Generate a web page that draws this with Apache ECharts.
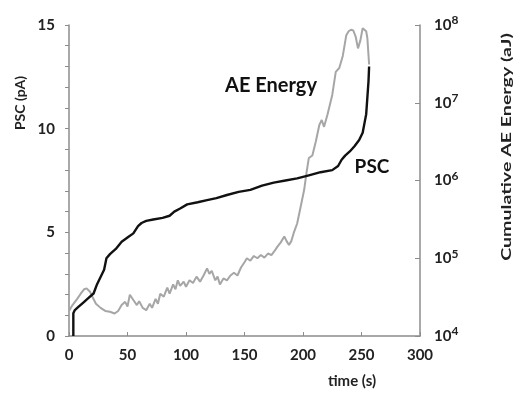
<!DOCTYPE html>
<html><head><meta charset="utf-8">
<script src="https://cdn.jsdelivr.net/npm/echarts@6/dist/echarts.min.js"></script>
<style>html,body{margin:0;padding:0;background:#fff}#c{width:515px;height:394px}</style>
</head><body><div id="c"></div>
<script>
// time (s) and PSC (pA)
var pscTime = [3.7,3.7,5,8,12,16,21,24,27,30,32,35,40,45,50,55,59,62,66,72,80,86,90,95,101,110,118,126,135,145,155,165,175,185,195,205,215,225,230,233,236,240,244,248,251,253,254,255,256,256.5];
var pscValue = [0,1.1,1.25,1.4,1.6,1.8,2.05,2.5,2.85,3.2,3.75,3.95,4.2,4.55,4.75,4.95,5.3,5.45,5.55,5.62,5.7,5.8,6.0,6.15,6.35,6.45,6.55,6.65,6.8,6.95,7.05,7.25,7.4,7.5,7.6,7.75,7.9,8.0,8.2,8.5,8.7,8.9,9.15,9.45,9.8,10.4,10.7,11.5,12.3,13.0];
// time (s) and cumulative AE energy (aJ)
var aeTime = [0,3,7,10,13,15,18,20,23,27,31,35,39,42,45,48,50,52,55,58,60,63,66,69,71,74,76,78,81,84,86,89,91,93,95,98,100,103,106,109,112,115,118,120,122,125,127,129,132,135,138,141,144,147,150,152,155,158,161,164,167,170,173,176,178,181,184,186,188,190,192,195,198,201,203,205,208,211,214,216,218,221,225,228,231,234,237,239,241,243,245,247,249,251,252,254,255,256.5];
var aeValue = [2.1e4,2.5e4,3.0e4,3.5e4,4.0e4,4.1e4,3.7e4,3.2e4,2.6e4,2.3e4,2.1e4,2.05e4,1.95e4,2.1e4,2.5e4,2.75e4,2.4e4,3.4e4,2.9e4,2.5e4,2.8e4,2.3e4,2.15e4,2.6e4,2.3e4,3.0e4,2.6e4,3.5e4,3.2e4,4.2e4,3.5e4,4.6e4,4.0e4,5.2e4,4.4e4,5.0e4,4.3e4,5.2e4,4.8e4,5.8e4,5.0e4,6.0e4,7.4e4,6.3e4,6.9e4,5.2e4,5.8e4,4.6e4,5.5e4,5.2e4,6.0e4,6.5e4,6.0e4,7.6e4,8.9e4,1.0e5,9.3e4,1.07e5,1.0e5,1.1e5,1.02e5,1.15e5,1.1e5,1.26e5,1.4e5,1.6e5,1.9e5,1.66e5,1.48e5,1.66e5,2.1e5,2.8e5,4.6e5,7.6e5,1.26e6,1.95e6,2.1e6,3.2e6,5.2e6,6.0e6,4.9e6,7.1e6,1.26e7,2.5e7,2.8e7,4.0e7,7.4e7,8.3e7,8.7e7,8.5e7,7.1e7,5.0e7,6.3e7,9.1e7,9.5e7,8.3e7,6.8e7,3.1e7];
var xTicks = [0,50,100,150,200,250,300];
var pscTicks = [0,5,10,15];
var aeExpTicks = [4,5,6,7,8];

var FONT = 'Lato';
var pscData = pscTime.map(function(t,i){return [t,pscValue[i]];});
var aeData = aeTime.map(function(t,i){return [t,aeValue[i]];});

var chart = echarts.init(document.getElementById('c'), null, {renderer:'canvas'});
chart.setOption({
  animation:false,
  backgroundColor:'#fff',
  grid:{left:69,right:95,top:25,bottom:58},
  xAxis:{type:'value',min:xTicks[0],max:xTicks[xTicks.length-1],interval:50,
    axisLine:{lineStyle:{color:'#8c8c8c',width:1.5}},
    axisTick:{inside:true,length:4,lineStyle:{color:'#8c8c8c'}},
    splitLine:{show:false},
    axisLabel:{margin:12,color:'#222',fontFamily:FONT,fontWeight:'bold',fontSize:15}},
  yAxis:[
    {type:'value',min:pscTicks[0],max:pscTicks[pscTicks.length-1],interval:5,
     axisLine:{show:true,lineStyle:{color:'#8c8c8c',width:1.5}},
     axisTick:{show:true,length:4,lineStyle:{color:'#8c8c8c'}},
     minorTick:{show:true,splitNumber:5,length:4,lineStyle:{color:'#8c8c8c'}},
     splitLine:{show:false},
     axisLabel:{margin:14,color:'#222',fontFamily:FONT,fontWeight:'bold',fontSize:15}},
    {type:'log',logBase:10,min:Math.pow(10,aeExpTicks[0]),max:Math.pow(10,aeExpTicks[aeExpTicks.length-1]),position:'right',
     axisLine:{show:true,lineStyle:{color:'#8c8c8c',width:1.5}},
     axisTick:{show:true,inside:true,length:5,lineStyle:{color:'#8c8c8c'}},
     splitLine:{show:false},
     axisLabel:{margin:14,color:'#222',fontFamily:FONT,fontWeight:'bold',fontSize:15,
       formatter:function(v){var n=Math.round(Math.log10(v));return '10{s|'+n+'}';},
       rich:{s:{fontFamily:FONT,fontWeight:'bold',fontSize:12,color:'#222',verticalAlign:'top',padding:[0,0,9,0]}}}}
  ],
  series:[
    {type:'line',yAxisIndex:1,data:aeData,showSymbol:false,lineStyle:{color:'#a6a6a6',width:2},z:2},
    {type:'line',yAxisIndex:0,data:pscData,showSymbol:false,lineStyle:{color:'#111',width:2.4},z:3}
  ],
  graphic:[
    {type:'text',x:20,y:103,rotation:Math.PI/2,style:{text:'PSC (pA)',fill:'#222',font:'bold 14px '+FONT,textAlign:'center',textVerticalAlign:'middle'}},
    {type:'text',x:506,y:147,rotation:Math.PI/2,scaleX:1.4,style:{text:'Cumulative AE Energy (aJ)',fill:'#222',font:'bold 14px '+FONT,textAlign:'center',textVerticalAlign:'middle'}},
    {type:'text',x:352,y:381,style:{text:'time (s)',fill:'#222',font:'bold 15px '+FONT,textAlign:'center',textVerticalAlign:'middle'}},
    {type:'text',x:271,y:86,style:{text:'AE Energy',fill:'#111',font:'bold 20px '+FONT,textAlign:'center',textVerticalAlign:'middle'}},
    {type:'text',x:372,y:167,style:{text:'PSC',fill:'#111',font:'bold 19px '+FONT,textAlign:'center',textVerticalAlign:'middle'}}
  ]
});
</script></body></html>
